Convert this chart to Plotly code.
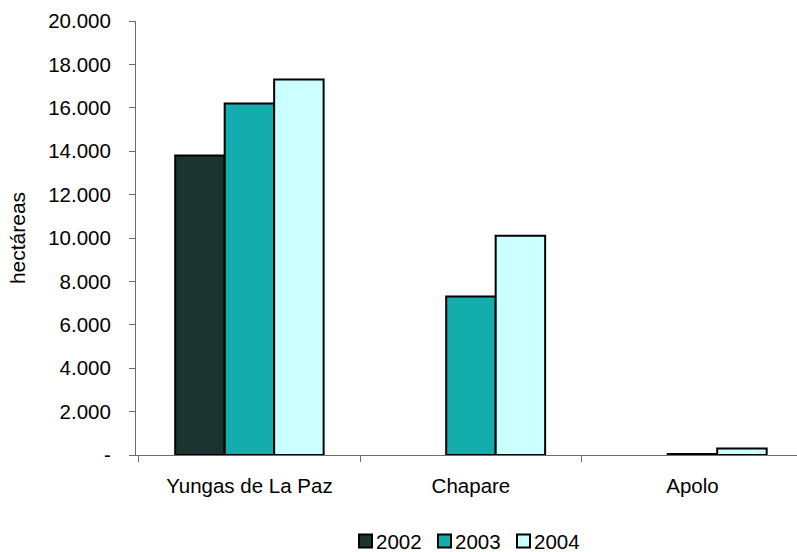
import plotly.graph_objects as go

# Coca cultivation area by region (hectares)
regions = ["Yungas de La Paz", "Chapare", "Apolo"]
years = ["2002", "2003", "2004"]
area_2002 = [13800, None, None]
area_2003 = [16200, 7300, 50]
area_2004 = [17300, 10100, 300]
series = [area_2002, area_2003, area_2004]
colors = ["#1C3430", "#14ADAD", "#CCFFFF"]

y_ticks = [0, 2000, 4000, 6000, 8000, 10000, 12000, 14000, 16000, 18000, 20000]
y_tick_text = ["-", "2.000", "4.000", "6.000", "8.000", "10.000", "12.000",
               "14.000", "16.000", "18.000", "20.000"]

font_family = "Liberation Sans, Arial, sans-serif"

W, H = 797, 552
ML, MR, MT, MB = 136, 0, 21, 97
plot_w = W - ML - MR
plot_h = H - MT - MB


def px_to_paper(px, py):
    return (px - ML) / plot_w, (H - MB - py) / plot_h


fig = go.Figure()
for year, vals, col in zip(years, series, colors):
    fig.add_trace(go.Bar(
        x=regions, y=vals, name=year, showlegend=False,
        marker=dict(color=col, line=dict(color="#000000", width=2)),
    ))

# Compact legend row under the chart: swatch + label per year
shapes, annotations = [], []
swatch = 13
step = 79
x0 = 359
cy = 541
for i, (year, col) in enumerate(zip(years, colors)):
    left = x0 + i * step
    ax0, ay0 = px_to_paper(left, cy + swatch / 2)
    ax1, ay1 = px_to_paper(left + swatch, cy - swatch / 2)
    shapes.append(dict(type="rect", xref="paper", yref="paper",
                       x0=ax0, y0=ay0, x1=ax1, y1=ay1,
                       fillcolor=col, line=dict(color="#000000", width=2)))
    tx, ty = px_to_paper(left + swatch + 2, cy)
    annotations.append(dict(text=year, xref="paper", yref="paper", x=tx, y=ty,
                            xanchor="left", yanchor="middle", showarrow=False,
                            font=dict(size=20.5), xshift=0))

fig.update_layout(
    width=W, height=H,
    margin=dict(l=ML, r=MR, t=MT, b=MB),
    paper_bgcolor="white", plot_bgcolor="white",
    barmode="group", bargap=0.33, bargroupgap=0,
    font=dict(family=font_family, size=20, color="#000000"),
    showlegend=False,
    shapes=shapes, annotations=annotations,
    xaxis=dict(
        type="category", range=[-0.512, 2.472], automargin=False,
        showline=True, linecolor="#6e6e6e", linewidth=1,
        ticks="outside", tickson="boundaries", ticklen=6, tickcolor="#6e6e6e",
        showgrid=False, tickfont=dict(size=20.5), ticklabelstandoff=12,
    ),
    yaxis=dict(
        range=[0, 20000], tickvals=y_ticks, ticktext=y_tick_text, automargin=False,
        showline=True, linecolor="#6e6e6e", linewidth=1,
        ticks="outside", ticklen=6, tickcolor="#6e6e6e",
        showgrid=False, zeroline=False, tickfont=dict(size=20.5),
        ticklabelstandoff=14,
        title=dict(text="hectáreas", font=dict(size=21), standoff=16),
    ),
)

fig.write_html("out.html")
